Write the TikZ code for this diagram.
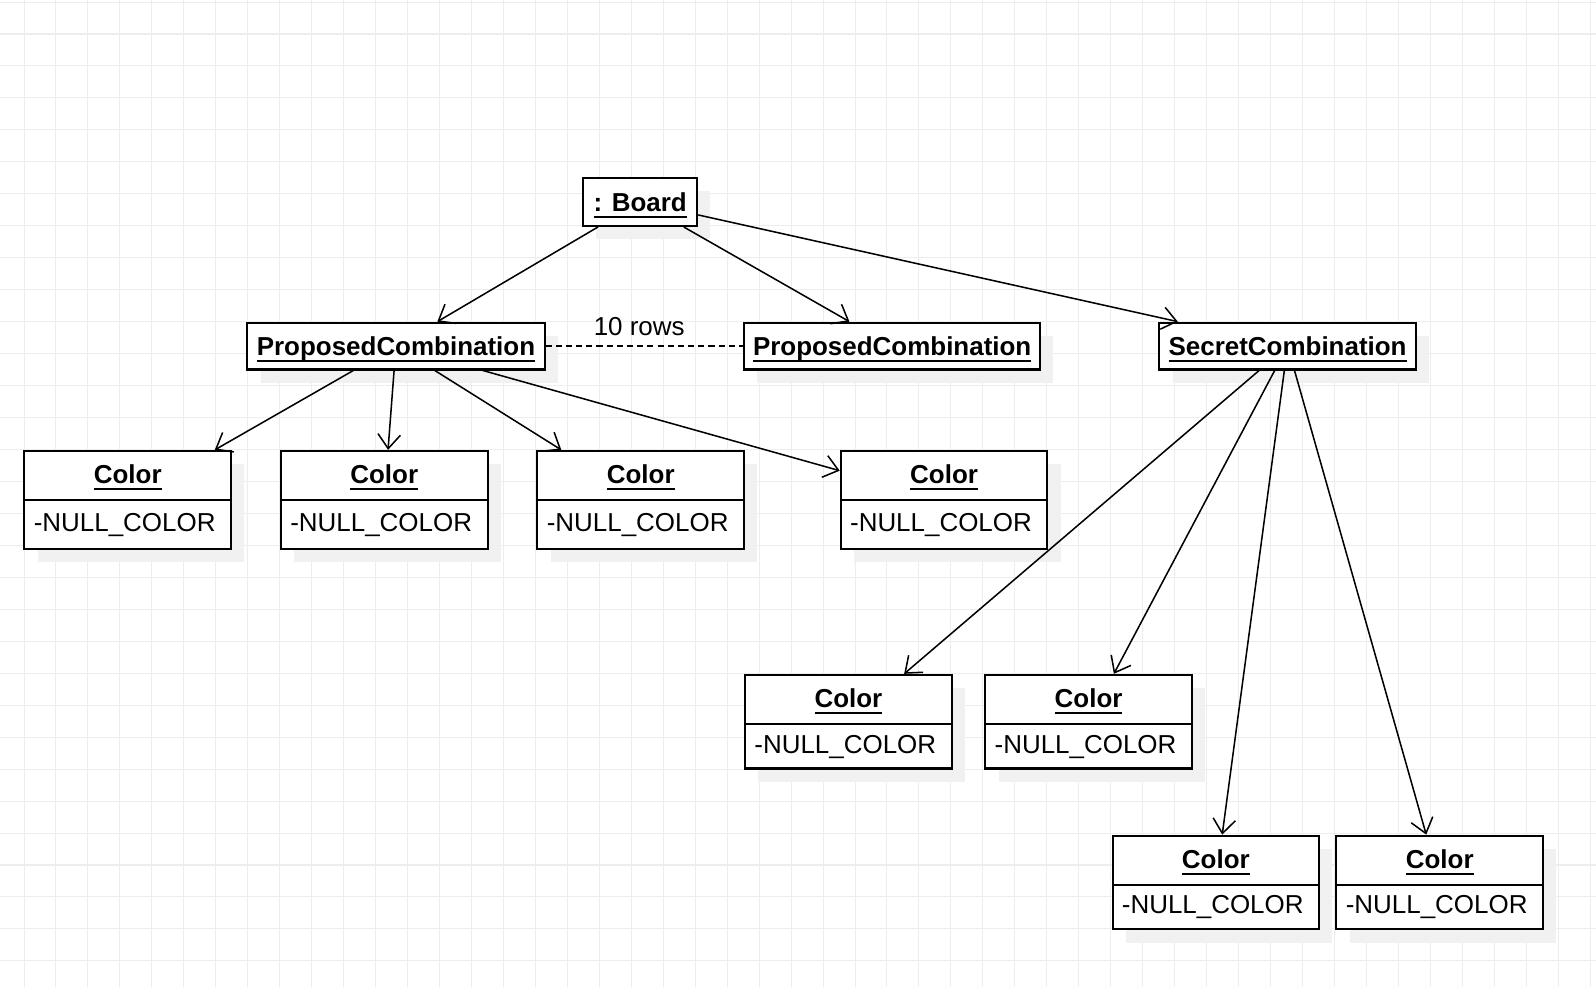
\documentclass[tikz,border=0pt]{standalone}
\usepackage{fontspec}
\setmainfont{Liberation Sans}
\usetikzlibrary{arrows.meta,shadows,calc}

\definecolor{gridgray}{HTML}{EDEDED}
\definecolor{shadowgray}{HTML}{F1F1F1}

\newlength\objw
\newcommand{\objname}[1]{\settowidth{\objw}{\textbf{#1}}%
  \raisebox{0pt}[\height][0pt]{\textbf{#1}\llap{\rule[-6pt]{\objw}{2pt}}}}

% name, x, y (top left), height
\newcommand{\colorobj}[4]{%
  \node[objbox,minimum width=203pt,minimum height=#4pt,anchor=north west] (#1) at (#2,#3) {};
  \draw[objline] ([yshift=-49pt]#1.north west) -- ([yshift=-49pt]#1.north east);
  \node[txt] (#1-name) at ([yshift=-24pt]#1.north) {\objname{Color}};
  \node[txt,anchor=west] (#1-attr) at ($(#1.south west)!0.5!([yshift=-49pt]#1.north west)+(10,0)$) {-NULL\_COLOR};
}

\begin{document}
\begin{tikzpicture}[x=1pt,y=-1pt,font=\fontsize{25.5}{30}\selectfont,
    gridline/.style={draw=gridgray,line width=1pt},
    objline/.style={draw=black,line width=2pt},
    objbox/.style={objline,fill=white,inner sep=0pt,
      drop shadow={shadow xshift=13pt,shadow yshift=-13pt,fill=shadowgray,opacity=1}},
    txt/.style={inner sep=0pt},
    assoc/.style={line width=1.5pt,-{Straight Barb[length=14pt,width=22pt,line width=1.5pt]}},
    rowlink/.style={line width=1.5pt,dash pattern=on 6pt off 4pt}]
  \useasboundingbox[fill=white] (0,0) rectangle (1568,970);
  % grid
  \foreach \k in {0,...,49}
    \draw[gridline] ({23.6+31.4*\k},0) -- ({23.6+31.4*\k},970);
  \foreach \k in {0,...,30}
    \draw[gridline] (0,{2+31.4*\k}) -- (1568,{2+31.4*\k});

  % objects
  \node[objbox,minimum width=112pt,minimum height=47pt] (board) at (629,198.5) {\objname{: Board}};
  \node[objbox,minimum width=292pt,minimum height=46pt] (pc1) at (389,340) {\objname{ProposedCombination}};
  \node[objbox,minimum width=291pt,minimum height=46pt] (pc2) at (876.5,340) {\objname{ProposedCombination}};
  \node[objbox,minimum width=252pt,minimum height=46pt] (sc) at (1265,340) {\objname{SecretCombination}};

  \colorobj{c1}{23}{442}{96}
  \colorobj{c2}{275}{442}{96}
  \colorobj{c3}{527}{442}{96}
  \colorobj{c4}{825}{442}{96}
  \colorobj{c5}{731}{662}{92}
  \colorobj{c6}{967}{662}{92}
  \colorobj{c7}{1092}{820}{92}
  \colorobj{c8}{1312}{820}{92}

  % links
  \draw[rowlink] (pc1) -- (pc2);
  \node[txt] (rows) at (628,321) {10 rows};
  \draw[assoc] (board) -- (pc1);
  \draw[assoc] (board) -- (pc2);
  \draw[assoc] (board) -- (sc);
  \foreach \c in {c1,c2,c3,c4}
    \draw[assoc] (pc1) -- (\c);
  \foreach \c in {c5,c6,c7,c8}
    \draw[assoc] (sc) -- (\c);
\end{tikzpicture}
\end{document}
